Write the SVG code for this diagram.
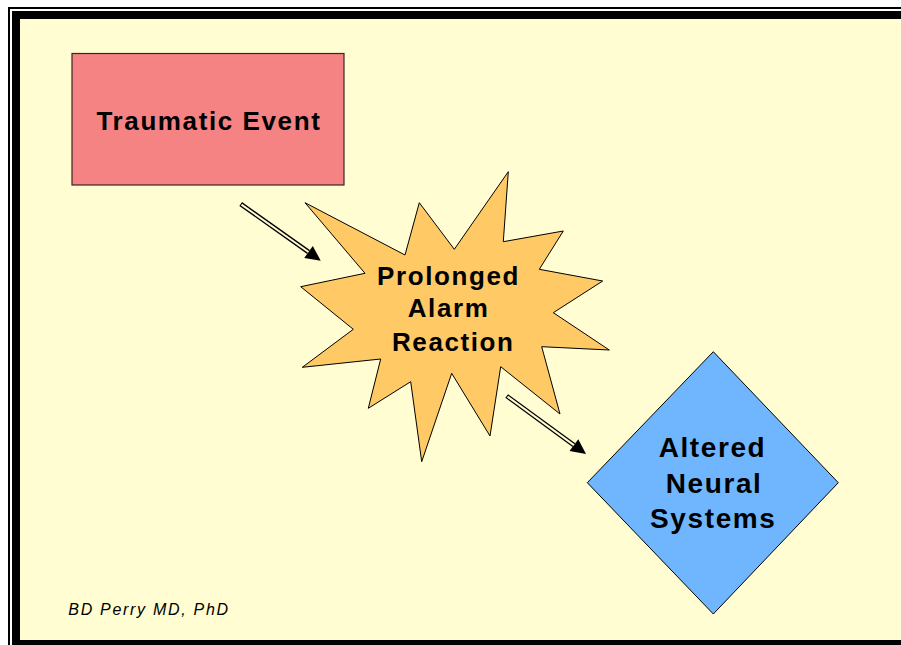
<svg xmlns="http://www.w3.org/2000/svg" width="901" height="645" viewBox="0 0 901 645">
<style>
.lbl{font-family:"Liberation Sans",Arial,sans-serif;font-weight:bold;fill:#000;text-anchor:middle;letter-spacing:1.6px}
.sig{font-family:"Liberation Sans",Arial,sans-serif;font-style:italic;font-size:16px;fill:#000;letter-spacing:1.7px}
.shaft{fill:none;stroke:#000;stroke-width:4.6}
.gap{fill:none;stroke:#FFFDD1;stroke-width:2}
</style>
<defs>
<marker id="head" markerUnits="userSpaceOnUse" orient="auto" refX="0" refY="0" markerWidth="16" markerHeight="16" overflow="visible">
<path d="M0,-7.4 L15,0 L0,7.4 z" fill="#000"/>
</marker>
</defs>
<rect x="0" y="0" width="901" height="645" fill="#fff"/>
<rect x="9" y="8" width="1000" height="1000" fill="#fff" stroke="#000" stroke-width="2"/>
<rect x="12" y="11" width="1000" height="1000" fill="#000"/>
<rect x="20" y="19" width="1000" height="621" fill="#FFFDD1"/>
<g id="connectors">
<line class="shaft" x1="240.7" y1="204" x2="308.5" y2="252" marker-end="url(#head)"/>
<line class="gap" x1="241.5" y1="204.6" x2="308.5" y2="252"/>
<line class="shaft" x1="506.7" y1="396" x2="573.9" y2="445.15" marker-end="url(#head)"/>
<line class="gap" x1="507.5" y1="396.6" x2="573.9" y2="445.15"/>
</g>
<g id="traumatic-event">
<rect x="72" y="53.5" width="272" height="131.5" fill="#F58383" stroke="#3a2525" stroke-width="1.2"/>
<text class="lbl" x="209" y="130" font-size="26">Traumatic Event</text>
</g>
<g id="prolonged-alarm-reaction">
<polygon points="508.3,171.7 503.3,241.7 563.3,231 539.3,269.3 602.7,281 553.3,312.7 609.3,350 541.7,346.7 560,414 500.7,366.7 490,436 451.7,373.3 421.7,461.7 410.7,381.7 368.3,408.3 380.7,359 302.3,367.3 353.3,329.3 300.7,286.7 365,273.3 305,202.7 405,255 419.3,202.7 454.3,249.3" fill="#FFC966" stroke="#000" stroke-width="1"/>
<text class="lbl" font-size="26" x="448.6" y="285">Prolonged</text>
<text class="lbl" font-size="26" x="448.6" y="316.7">Alarm</text>
<text class="lbl" font-size="26" x="453.3" y="350.7">Reaction</text>
</g>
<g id="altered-neural-systems">
<polygon points="713.3,351.7 838.3,482.7 713.3,614 587.3,482.7" fill="#6FB6FF" stroke="#000" stroke-width="1"/>
<text class="lbl" font-size="28" x="712.5" y="457.3">Altered</text>
<text class="lbl" font-size="28" x="714.1" y="493.3">Neural</text>
<text class="lbl" font-size="28" x="713.3" y="528.3">Systems</text>
</g>
<text class="sig" x="68.3" y="615">BD Perry MD, PhD</text>
</svg>
